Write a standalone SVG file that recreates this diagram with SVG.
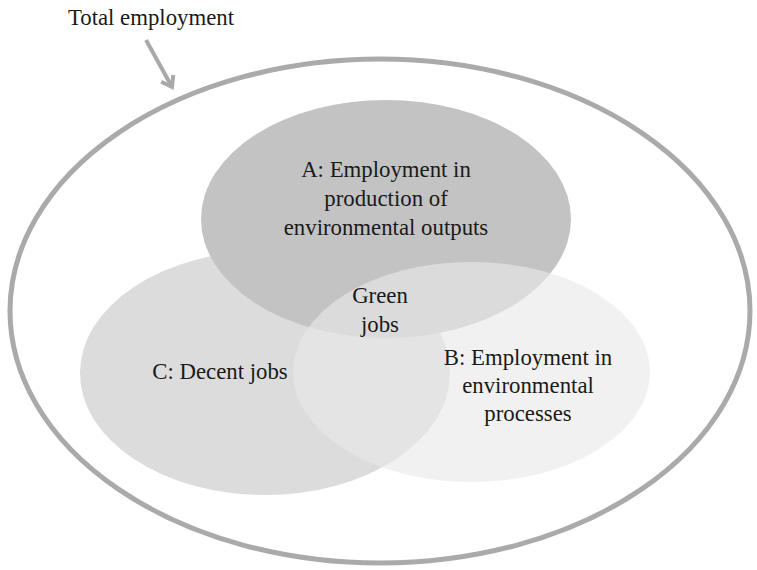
<svg xmlns="http://www.w3.org/2000/svg" width="757" height="570" viewBox="0 0 757 570">
  <style>
    .lbl { font-family: "Liberation Serif", "Times New Roman", serif; font-size: 22.8px; fill: #1a1a1a; text-anchor: middle; }
    .outer { fill: #ffffff; stroke: #aaaaaa; stroke-width: 5; }
    .conn { stroke: #a9a9a9; stroke-width: 4; fill: none; stroke-linecap: butt; }
  </style>
  <defs>
    <marker id="chev" markerUnits="userSpaceOnUse" viewBox="-14 -10 17 20" refX="0" refY="0" markerWidth="17" markerHeight="20" orient="auto">
      <path d="M-9.8,-6.9 L0,0 L-9.8,6.9" fill="none" stroke="#a9a9a9" stroke-width="4" stroke-linejoin="miter"/>
    </marker>
  </defs>
  <rect width="757" height="570" fill="#ffffff"/>

  <g id="total-employment">
    <ellipse class="outer" cx="380" cy="311" rx="370" ry="252"/>
    <text class="lbl" x="151" y="25">Total employment</text>
  </g>

  <g id="node-C">
    <ellipse cx="265" cy="373" rx="185" ry="122" fill="#dcdcdc"/>
    <text class="lbl" x="220" y="379">C: Decent jobs</text>
  </g>

  <g id="node-A">
    <ellipse cx="386" cy="219" rx="185" ry="119" fill="#c3c3c3"/>
    <text class="lbl" x="386" y="177">A: Employment in</text>
    <text class="lbl" x="386" y="206">production of</text>
    <text class="lbl" x="386" y="235">environmental outputs</text>
  </g>

  <g id="node-B">
    <ellipse cx="471.5" cy="372" rx="178.5" ry="110" fill="#e9e9e9" fill-opacity="0.63"/>
    <text class="lbl" x="528" y="365">B: Employment in</text>
    <text class="lbl" x="528" y="393">environmental</text>
    <text class="lbl" x="528" y="421">processes</text>
  </g>

  <g id="green-jobs">
    <text class="lbl" x="380" y="303">Green</text>
    <text class="lbl" x="380" y="332">jobs</text>
  </g>

  <g id="connectors">
    <line class="conn" x1="146" y1="40" x2="172" y2="87" marker-end="url(#chev)"/>
  </g>
</svg>
